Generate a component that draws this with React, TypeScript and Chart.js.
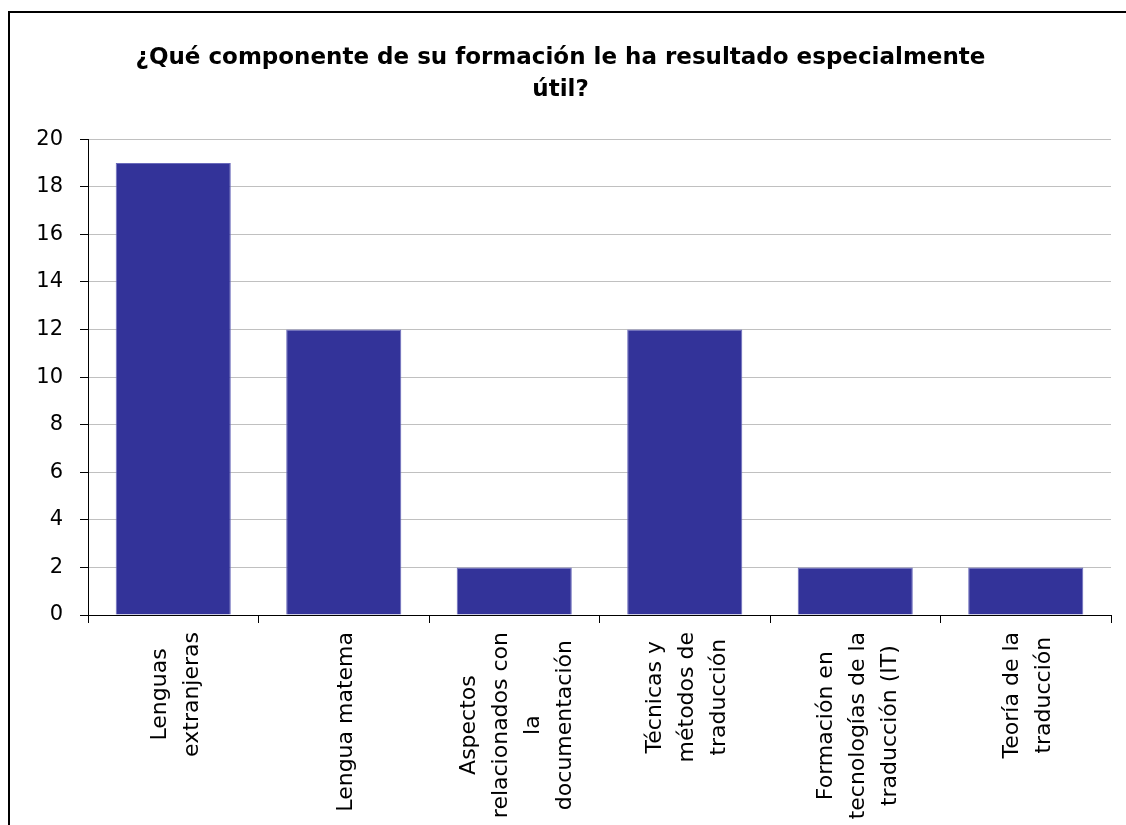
import React, { useEffect, useRef } from "react";
import { Chart, registerables } from "chart.js";

Chart.register(...registerables);

const titleLines = ["¿Qué componente de su formación le ha resultado especialmente", "útil?"];
const categories: string[][] = [
  ["Lenguas", "extranjeras"],
  ["Lengua matema"],
  ["Aspectos", "relacionados con", "la", "documentación"],
  ["Técnicas y", "métodos de", "traducción"],
  ["Formación en", "tecnologías de la", "traducción (IT)"],
  ["Teoría de la", "traducción"],
];
const values = [19, 12, 2, 12, 2, 2];
const yMin = 0;
const yMax = 20;
const yStep = 2;

const FONT = "'DejaVu Sans', Verdana, sans-serif";
const LABEL_SIZE = 22;
const LABEL_LINE = 32;
const LABEL_GAP = 17;

const rotatedLabels = {
  id: "rotatedLabels",
  afterDraw(chart: any) {
    const xs = chart.scales.x;
    const ctx = chart.ctx;
    ctx.save();
    ctx.font = `${LABEL_SIZE}px ${FONT}`;
    ctx.fillStyle = "#000";
    ctx.textAlign = "center";
    ctx.textBaseline = "middle";
    categories.forEach((lines, i) => {
      const x = xs.getPixelForValue(i) + 3;
      const maxW = Math.max(...lines.map((l) => ctx.measureText(l).width));
      ctx.save();
      ctx.translate(x, xs.top + LABEL_GAP);
      ctx.rotate(-Math.PI / 2);
      const n = lines.length;
      lines.forEach((line, j) => {
        ctx.fillText(line, -maxW / 2, (j - (n - 1) / 2) * LABEL_LINE);
      });
      ctx.restore();
    });
    ctx.restore();
  },
};

export default function App() {
  const ref = useRef<HTMLCanvasElement>(null);
  useEffect(() => {
    if (!ref.current) return;
    const chart = new Chart(ref.current, {
      type: "bar",
      data: {
        labels: categories,
        datasets: [
          {
            data: values,
            backgroundColor: "#333399",
            borderColor: "#6a6abb",
            borderWidth: 1,
            barPercentage: 0.675,
            categoryPercentage: 1,
          },
        ],
      },
      plugins: [rotatedLabels],
      options: {
        animation: false,
        responsive: false,
        layout: { padding: { left: 0, right: 15, top: 0, bottom: 0 } },
        plugins: {
          legend: { display: false },
          tooltip: { enabled: false },
          title: {
            display: true,
            text: titleLines,
            color: "#000",
            font: { family: FONT, size: 23, weight: "bold", lineHeight: 1.35 },
            padding: { top: 30, bottom: 34 },
          },
        },
        scales: {
          x: {
            grid: {
              offset: true,
              drawOnChartArea: false,
              drawTicks: true,
              tickLength: 8,
              tickColor: "#000",
            },
            border: { color: "#000", width: 1 },
            ticks: { color: "rgba(0,0,0,0)", font: { family: FONT, size: LABEL_SIZE } },
            afterFit: (s: any) => {
              s.height = 210;
            },
          },
          y: {
            min: yMin,
            max: yMax,
            grid: { color: "#c0c0c0", tickColor: "#000", tickLength: 8 },
            border: { color: "#000", width: 1 },
            ticks: {
              stepSize: yStep,
              color: "#000",
              padding: 17,
              font: { family: FONT, size: 21 },
            },
            afterFit: (s: any) => {
              s.width = 78;
            },
          },
        },
      },
    });
    return () => chart.destroy();
  }, []);
  return (
    <div
      style={{
        position: "absolute",
        left: 8,
        top: 11,
        width: 1118,
        height: 814,
        borderTop: "2px solid #000",
        borderLeft: "2px solid #000",
        boxSizing: "border-box",
        background: "#fff",
      }}
    >
      <canvas ref={ref} width={1116} height={812} style={{ display: "block" }} />
    </div>
  );
}
